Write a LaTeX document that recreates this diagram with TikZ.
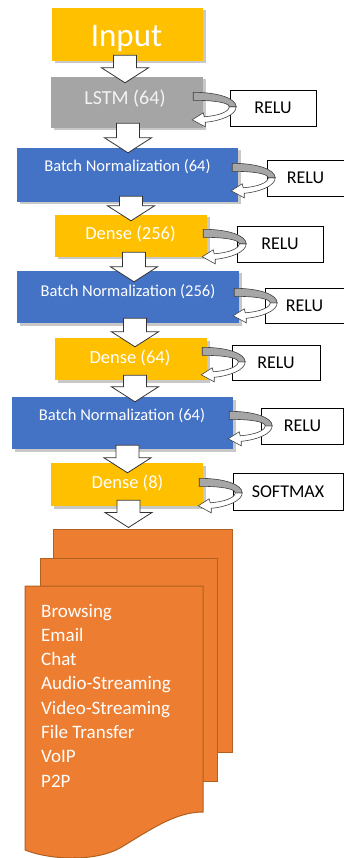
\documentclass[tikz,border=0pt]{standalone}
\usepackage{fontspec}
\setmainfont{Carlito}
\usetikzlibrary{calc,shadows}
\definecolor{cyel}{HTML}{FFC000}
\definecolor{cgray}{HTML}{A5A5A5}
\definecolor{cblue}{HTML}{4472C4}
\definecolor{corange}{HTML}{ED7D31}
\definecolor{cdocline}{HTML}{B0601F}
\definecolor{cband}{HTML}{A6A6A6}
\tikzset{
  mainbox/.style={rectangle, inner sep=0pt, draw=none,
    drop shadow={shadow xshift=2.5pt, shadow yshift=-2.5pt, opacity=0.3, fill=black!70}},
  actbox/.style={rectangle, inner sep=0pt, draw=black, line width=0.8pt, fill=white,
    font=\fontsize{18}{20}\selectfont},
  wtxt/.style={text=white, inner sep=0pt, anchor=base},
  ltxt/.style={text=white, inner sep=0pt, anchor=base west, font=\fontsize{19}{22}\selectfont},
  barrow/.style={draw=black!80, fill=white, line width=0.8pt, line join=miter},
  docshape/.style={draw=cdocline, fill=corange, line width=1pt},
  grayband/.style={draw=black!75, fill=cband, line width=0.6pt},
  whiteband/.style={draw=black!75, fill=white, line width=0.6pt},
}
\newcommand\barr[5]{%
  \draw[barrow] let \p1=(#1.south), \p2=(#2.north) in
    ({\x1+(#3)*1pt-11.5pt},{\y1+(#4)*1pt}) --
    ({\x1+(#3)*1pt+11.5pt},{\y1+(#4)*1pt}) --
    ({\x1+(#3)*1pt+11.5pt},{\y2-(#5)*1pt+15pt}) --
    ({\x1+(#3)*1pt+23.5pt},{\y2-(#5)*1pt+15pt}) --
    ({\x1+(#3)*1pt},{\y2-(#5)*1pt}) --
    ({\x1+(#3)*1pt-23.5pt},{\y2-(#5)*1pt+15pt}) --
    ({\x1+(#3)*1pt-11.5pt},{\y2-(#5)*1pt+15pt}) -- cycle;}
\newcommand\curvarr[3]{%
  \begin{scope}[shift={($(#1.north east)+(#2,#3)$)}]
    \draw[whiteband] (36,14) -- (43,14) .. controls (43,22) and (28,28) .. (12,29.5)
      -- (12,34) -- (-1,27) -- (10,20) -- (11,24)
      .. controls (25,23) and (36,19) .. (36,14) -- cycle;
    \draw[grayband] (0,-0.5) .. controls (26,-0.5) and (43,6) .. (43,14) -- (36,14)
      .. controls (36,10) and (22,7.5) .. (0,7.5) -- cycle;
  \end{scope}}
\begin{document}
\begin{tikzpicture}[x=1pt,y=-1pt]
\useasboundingbox[fill=white] (0,0) rectangle (344,858);
% main layer boxes
\node[mainbox, fill=cyel, minimum width=151pt, minimum height=53pt] (inp) at (127.5,34.5) {};
\node[mainbox, fill=cgray, minimum width=152pt, minimum height=51pt] (lstm) at (127,102.5) {};
\node[mainbox, fill=cblue, minimum width=221pt, minimum height=54pt] (bna) at (127.5,175) {};
\node[mainbox, fill=cyel, minimum width=152pt, minimum height=42pt] (dena) at (131,236) {};
\node[mainbox, fill=cblue, minimum width=222pt, minimum height=52pt] (bnb) at (128,297) {};
\node[mainbox, fill=cyel, minimum width=152pt, minimum height=42pt] (denb) at (131,359) {};
\node[mainbox, fill=cblue, minimum width=221pt, minimum height=52pt] (bnc) at (122.5,423) {};
\node[mainbox, fill=cyel, minimum width=152pt, minimum height=43pt] (denc) at (127,484.5) {};
% box texts
\node[wtxt, font=\fontsize{33}{36}\selectfont] (tinp) at (126.5,47) {Input};
\node[wtxt, text=white!95!black, font=\fontsize{20}{24}\selectfont] (tlstm) at (125,105) {LSTM (64)};
\node[wtxt, font=\fontsize{16.5}{20}\selectfont] (tbna) at (127.5,172) {Batch Normalization (64)};
\node[wtxt, font=\fontsize{18.5}{22}\selectfont] (tdena) at (130.5,240) {Dense (256)};
\node[wtxt, font=\fontsize{16.5}{20}\selectfont] (tbnb) at (128,296) {Batch Normalization (256)};
\node[wtxt, font=\fontsize{18.5}{22}\selectfont] (tdenb) at (130,363) {Dense (64)};
\node[wtxt, font=\fontsize{16.5}{20}\selectfont] (tbnc) at (122,420.5) {Batch Normalization (64)};
\node[wtxt, font=\fontsize{18.5}{22}\selectfont] (tdenc) at (127.5,488) {Dense (8)};
% activation boxes
\node[actbox, minimum width=86pt, minimum height=36pt] (ra) at (273,108) {RELU};
\node[actbox, minimum width=77pt, minimum height=36pt] (rb) at (305.5,178) {RELU};
\node[actbox, minimum width=86pt, minimum height=36pt] (rc) at (280,244) {RELU};
\node[actbox, minimum width=79pt, minimum height=35pt] (rd) at (304.5,305.5) {RELU};
\node[actbox, minimum width=88pt, minimum height=35pt] (re) at (276,362.5) {RELU};
\node[actbox, minimum width=82pt, minimum height=36pt] (rf) at (302.5,426) {RELU};
\node[actbox, minimum width=110pt, minimum height=37pt] (rg) at (288,491.5) {SOFTMAX};
% output documents
\node[docshape, rectangle, inner sep=0pt, minimum width=179pt, minimum height=223pt] (doca) at (142.5,640.5) {};
\node[docshape, rectangle, inner sep=0pt, minimum width=177pt, minimum height=223pt] (docb) at (128.5,669.5) {};
\draw[docshape] (25,586) -- (203,586) -- (203,812)
  .. controls (175,812) and (150,830) .. (120,848)
  .. controls (95,862) and (50,860) .. (25,850) -- cycle;
\foreach \t [count=\i from 0] in {Browsing,Email,Chat,Audio-Streaming,Video-Streaming,File Transfer,VoIP,P2P}
  \node[ltxt] (cls\i) at (41,{617+24.3*\i}) {\t};
% block arrows
\barr{inp}{lstm}{-2.5}{6}{6}
\barr{lstm}{bna}{1}{5}{5}
\barr{bna}{dena}{3.5}{6}{6}
\barr{dena}{bnb}{3}{5}{11}
\barr{bnb}{denb}{7}{5}{9}
\barr{denb}{bnc}{4}{5}{5}
\barr{bnc}{denc}{5}{4}{10}
\barr{denc}{doca}{1.5}{6}{-1}
% activation curved arrows
\curvarr{lstm}{-10}{16}
\curvarr{bna}{-6}{16}
\curvarr{dena}{-4}{15}
\curvarr{bnb}{-5}{18}
\curvarr{denb}{-5}{10}
\curvarr{bnc}{-4}{15}
\curvarr{denc}{-4}{16}
\end{tikzpicture}
\end{document}
